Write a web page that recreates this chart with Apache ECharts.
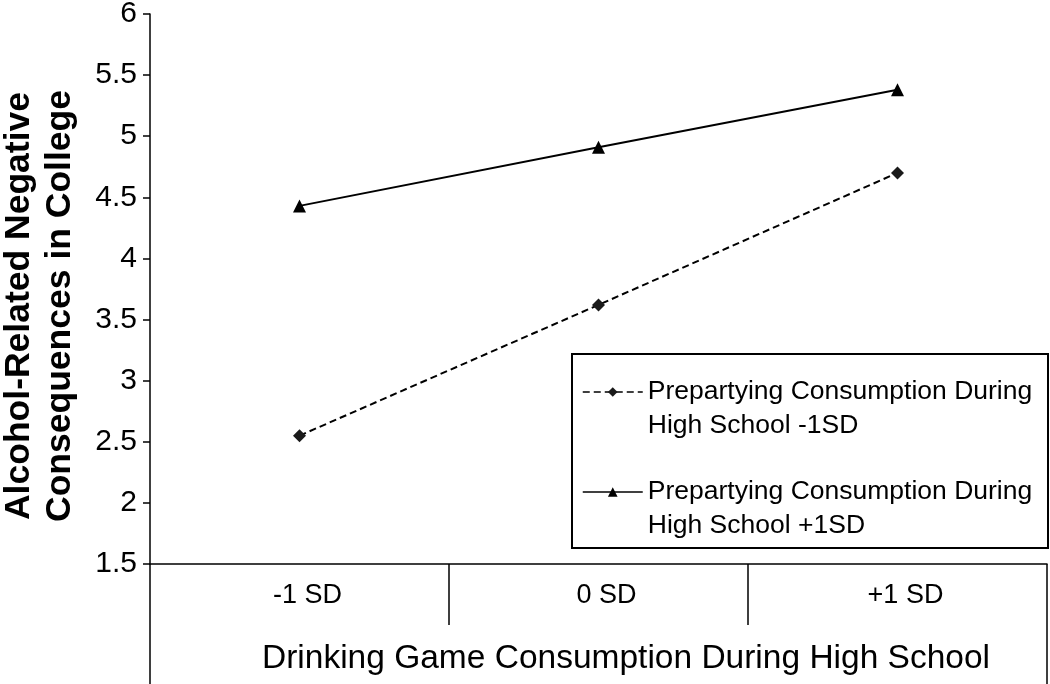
<!DOCTYPE html>
<html>
<head>
<meta charset="utf-8">
<script src="https://cdn.jsdelivr.net/npm/echarts@6/dist/echarts.min.js"></script>
<style>
  html, body { margin: 0; padding: 0; background: #fff; }
  #chart { width: 1050px; height: 684px; }
</style>
</head>
<body>
<div id="chart"></div>
<script>
const categories = ['-1 SD', '0 SD', '+1 SD']
const lowPrepartying = [2.55, 3.62, 4.70]
const highPrepartying = [4.43, 4.91, 5.38]
const seriesNames = [
  'Prepartying Consumption During\nHigh School -1SD',
  'Prepartying Consumption During\nHigh School +1SD',
]

const font = "'Liberation Sans', Arial, sans-serif"

const chart = echarts.init(document.getElementById('chart'), null, { renderer: 'canvas' })

chart.setOption({
  backgroundColor: '#fff',
  animation: false,
  textStyle: { fontFamily: font, color: '#000' },
  grid: { left: 150, right: 3, top: 14, bottom: 120, containLabel: false, outerBoundsMode: 'none' },
  xAxis: [
    {
      type: 'category',
      data: categories,
      boundaryGap: true,
      axisLine: { lineStyle: { color: '#000', width: 1.5 } },
      axisTick: { show: true, length: 61, interval: 0, lineStyle: { color: '#000', width: 1.5 } },
      axisLabel: { fontSize: 27, color: '#000', margin: 18, fontFamily: font, padding: [0, 0, 0, 16] },
      name: 'Drinking Game Consumption During High School',
      nameLocation: 'middle',
      nameGap: 78,
      nameTextStyle: { fontSize: 33.5, color: '#000', fontFamily: font, padding: [0, 0, 0, 55] },
    },
    {
      // outer frame of the multi-level category axis
      type: 'category',
      data: [''],
      position: 'bottom',
      boundaryGap: true,
      axisLine: { show: false },
      axisTick: { show: true, length: 120, lineStyle: { color: '#000', width: 1.5 } },
      axisLabel: { show: false },
    },
  ],
  yAxis: {
    type: 'value',
    min: 1.5,
    max: 6,
    interval: 0.5,
    splitLine: { show: false },
    axisLine: { show: true, lineStyle: { color: '#000', width: 1.5 } },
    axisTick: { show: true, length: 7, lineStyle: { color: '#000', width: 1.5 } },
    axisLabel: { fontSize: 30, color: '#000', margin: 13, fontFamily: font },
    name: 'Alcohol-Related Negative\nConsequences in College',
    nameLocation: 'middle',
    nameGap: 69,
    nameTextStyle: {
      fontSize: 35.5,
      fontWeight: 'bold',
      color: '#000',
      lineHeight: 41,
      fontFamily: font,
      padding: [0, 34, 0, 0],
    },
  },
  legend: {
    orient: 'vertical',
    left: 582,
    top: 341,
    itemGap: -2,
    itemWidth: 60,
    itemHeight: 12,
    padding: 0,
    data: seriesNames,
    // empty first line keeps the icon level with the first text line
    formatter: name => '\n' + name,
    lineStyle: { width: 1.5 },
    textStyle: {
      fontSize: 26.5,
      lineHeight: 34,
      color: '#000',
      fontFamily: font,
    },
  },
  graphic: [
    {
      type: 'rect',
      shape: { x: 572, y: 354, width: 476, height: 194 },
      style: { fill: 'none', stroke: '#000', lineWidth: 2 },
      z: 10,
    },
  ],
  series: [
    {
      name: seriesNames[0],
      type: 'line',
      data: lowPrepartying,
      symbol: 'diamond',
      symbolSize: 13,
      itemStyle: { color: '#1a1a1a' },
      lineStyle: { color: '#000', width: 2, type: [7, 4] },
    },
    {
      name: seriesNames[1],
      type: 'line',
      data: highPrepartying,
      symbol: 'triangle',
      symbolSize: 13,
      itemStyle: { color: '#000' },
      lineStyle: { color: '#000', width: 2, type: 'solid' },
    },
  ],
})
</script>
</body>
</html>
